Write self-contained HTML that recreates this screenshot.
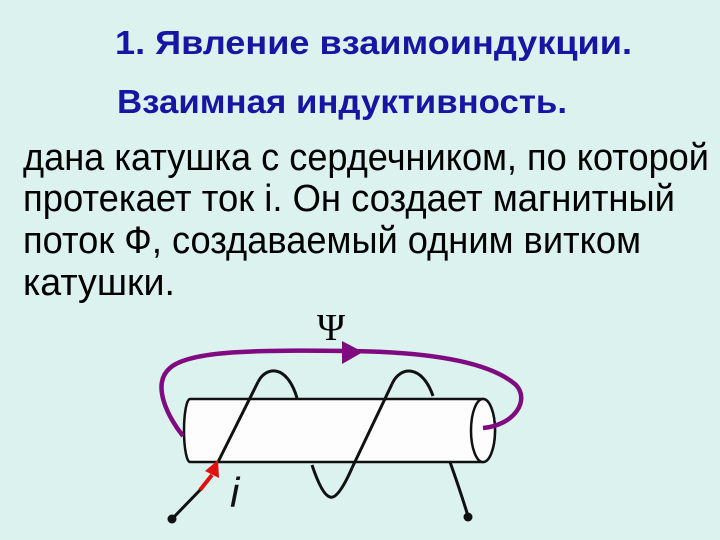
<!DOCTYPE html>
<html><head><meta charset="utf-8"><style>
html,body{margin:0;padding:0;background:#dbf2ee;}
svg{display:block}
</style></head><body>
<svg width="720" height="540" viewBox="0 0 720 540" xmlns="http://www.w3.org/2000/svg">
<rect width="720" height="540" fill="#dbf2ee"/>
<g font-family="Liberation Sans, sans-serif">
<text x="115" y="54" font-size="33" font-weight="bold" fill="#1616a2" textLength="517" lengthAdjust="spacingAndGlyphs">1. Явление взаимоиндукции.</text>
<text x="117" y="113" font-size="33" font-weight="bold" fill="#1616a2" textLength="450" lengthAdjust="spacingAndGlyphs">Взаимная индуктивность.</text>
<text x="23" y="170" font-size="38" fill="#000" textLength="686" lengthAdjust="spacingAndGlyphs">дана катушка с сердечником, по которой</text>
<text x="23" y="211" font-size="38" fill="#000" textLength="652" lengthAdjust="spacingAndGlyphs">протекает ток i. Он создает магнитный</text>
<text x="23" y="253" font-size="38" fill="#000" textLength="618" lengthAdjust="spacingAndGlyphs">поток Ф, создаваемый одним витком</text>
<text x="23" y="295" font-size="38" fill="#000" textLength="152" lengthAdjust="spacingAndGlyphs">катушки.</text>
</g>
<text x="331" y="340" font-size="38" font-family="Liberation Serif, serif" text-anchor="middle" fill="#000">Ψ</text>
<!-- wire behind -->
<path d="M258,382 C266,366 287,364 297,398" fill="none" stroke="#111" stroke-width="3"/>
<path d="M392,384 C400,366 422,364 433,396" fill="none" stroke="#111" stroke-width="3"/>
<path d="M312,465 Q322,495 330,497 Q338,500 352,468" fill="none" stroke="#111" stroke-width="3"/>
<path d="M450,462 Q460,490 468,516" fill="none" stroke="#111" stroke-width="3"/>
<!-- cylinder -->
<path d="M190,399 L483,399 A12,31.5 0 0 1 483,462 L190,462 A6,31.5 0 0 1 190,399 Z" fill="#fdfdfd" stroke="#111" stroke-width="2.5"/>
<ellipse cx="483" cy="430.5" rx="12" ry="31.5" fill="#fdfdfd" stroke="#111" stroke-width="2.5"/>
<!-- front strands -->
<path d="M218,462 L258,382" fill="none" stroke="#111" stroke-width="3"/>
<path d="M352,468 L392,384" fill="none" stroke="#111" stroke-width="3"/>
<!-- lead with red arrow -->
<line x1="172" y1="519" x2="202" y2="488" stroke="#111" stroke-width="3"/>
<line x1="200" y1="490" x2="212" y2="475" stroke="#e01010" stroke-width="4"/>
<polygon points="218,460 219,478 205,471" fill="#e01010"/>
<circle cx="172" cy="519" r="4.5" fill="#111"/>
<circle cx="468" cy="517" r="4.5" fill="#111"/>
<text x="230" y="507" font-size="42" font-style="italic" font-family="Liberation Sans, sans-serif" fill="#111">i</text>
<!-- purple flux line -->
<path d="M183,436 C170,420 150,385 170,368 C190,350 260,350 350,351 C430,352 490,362 516,385 C530,400 515,425 483,428" fill="none" stroke="#800a80" stroke-width="4.5"/>
<polygon points="342,341 342,364 363,352" fill="#800a80"/>
</svg>
</body></html>
